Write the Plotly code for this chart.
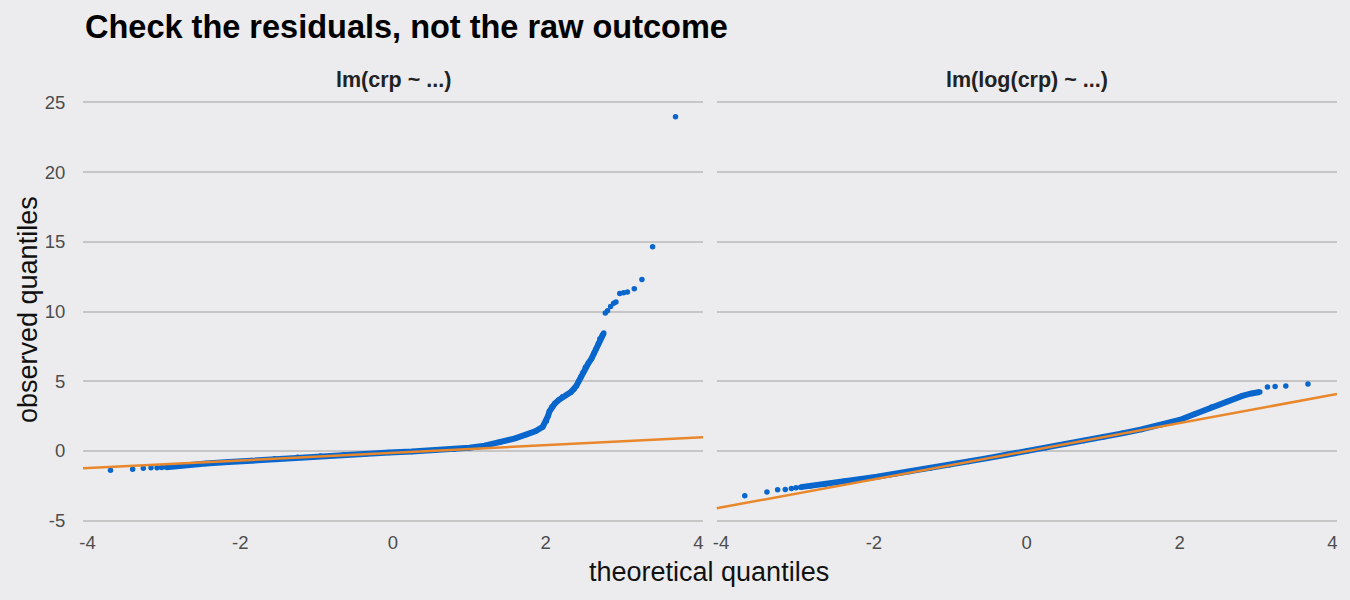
import plotly.graph_objects as go

# ---------------- data ----------------
panel_titles = ["lm(crp ~ ...)", "lm(log(crp) ~ ...)"]
x_ticks = [-4, -2, 0, 2, 4]
x_tick_labels = ["-4", "-2", "0", "2", "4"]
y_ticks = [-5, 0, 5, 10, 15, 20, 25]
y_tick_labels = ["-5", "0", "5", "10", "15", "20", "25"]
x_range = [-4.06, 4.06]
y_range = [-5.1, 25.1]

# left panel: lm(crp ~ ...)
left_low_x = [-3.70, -3.41, -3.27, -3.17, -3.09, -3.03]
left_low_y = [-1.38, -1.31, -1.24, -1.21, -1.21, -1.19]
left_band_x = [-2.97, -2.75, -2.45, -2.15, -1.85, -1.55, -1.25, -0.95, -0.65, -0.35,
               -0.05, 0.25, 0.55, 0.80, 1.00, 1.20, 1.40, 1.60, 1.75, 1.87,
               1.96, 2.01, 2.03, 2.05, 2.08, 2.12, 2.17, 2.22, 2.28, 2.33, 2.37, 2.40,
               2.43, 2.46, 2.49, 2.52, 2.56, 2.60, 2.63, 2.66, 2.69, 2.71, 2.74, 2.76]
left_band_y = [-1.17, -1.03, -0.91, -0.80, -0.69, -0.57, -0.46, -0.37, -0.28, -0.20,
               -0.12, -0.05, 0.04, 0.12, 0.22, 0.38, 0.62, 0.90, 1.18, 1.42,
               1.72, 2.15, 2.50, 2.85, 3.15, 3.40, 3.65, 3.88, 4.05, 4.22, 4.42, 4.65,
               4.97, 5.30, 5.65, 6.00, 6.30, 6.62, 6.98, 7.33, 7.70, 8.05, 8.28, 8.45]
left_high_x = [2.78, 2.81, 2.85, 2.89, 2.92, 2.97, 3.02, 3.07, 3.16, 3.26, 3.40, 3.70]
left_high_y = [9.90, 10.05, 10.35, 10.60, 10.68, 11.30, 11.34, 11.40, 11.63, 12.30, 14.64, 23.97]
left_ref_intercept = -0.135
left_ref_slope = 0.275

# right panel: lm(log(crp) ~ ...)
right_low_x = [-3.69, -3.40, -3.26, -3.16, -3.08, -3.02]
right_low_y = [-3.21, -2.95, -2.79, -2.76, -2.69, -2.64]
right_band_x = [-2.96, -2.83, -2.63, -2.39, -2.17, -1.96, -1.74, -1.53, -1.26, -1.01,
                -0.76, -0.51, -0.25, 0.00, 0.25, 0.50, 0.75, 1.00, 1.25, 1.50, 1.75,
                2.00, 2.20, 2.42, 2.62, 2.82, 2.94, 3.05]
right_band_y = [-2.60, -2.52, -2.37, -2.18, -2.02, -1.86, -1.67, -1.48, -1.23, -1.00,
                -0.76, -0.52, -0.26, -0.02, 0.23, 0.49, 0.74, 1.00, 1.26, 1.54, 1.85,
                2.22, 2.65, 3.15, 3.55, 3.95, 4.12, 4.22]
right_high_x = [3.15, 3.25, 3.39, 3.68]
right_high_y = [4.59, 4.62, 4.66, 4.80]
right_ref_intercept = -0.02
right_ref_slope = 1.01

# ---------------- style ----------------
BG = "#ECECEE"
GRID = "#C6C6C6"
BLUE = "#0866CC"
ORANGE = "#E8872C"
FONT = "Liberation Sans, Arial, sans-serif"

fig = go.Figure()

panels = [
    ("x", "y", left_low_x + left_band_x + left_high_x, left_low_y + left_band_y + left_high_y,
     left_band_x, left_band_y, left_ref_intercept, left_ref_slope),
    ("x2", "y2", right_low_x + right_band_x + right_high_x, right_low_y + right_band_y + right_high_y,
     right_band_x, right_band_y, right_ref_intercept, right_ref_slope),
]

for xa, ya, px, py, bx, by, b0, b1 in panels:
    # dense part of the sample drawn as a continuous band
    fig.add_trace(go.Scatter(x=bx, y=by, mode="lines", xaxis=xa, yaxis=ya,
                             line=dict(color=BLUE, width=6), hoverinfo="skip",
                             showlegend=False))
    # every observed quantile as a point
    fig.add_trace(go.Scatter(x=px, y=py, mode="markers", xaxis=xa, yaxis=ya,
                             marker=dict(color=BLUE, size=5.5, line=dict(width=0)),
                             hoverinfo="skip", showlegend=False))
    # reference line across the panel
    ref_y = [b0 + b1 * v for v in x_range]
    fig.add_trace(go.Scatter(x=x_range, y=ref_y, mode="lines", xaxis=xa, yaxis=ya,
                             line=dict(color=ORANGE, width=2.5), hoverinfo="skip",
                             showlegend=False))

L, R, T, B = 83, 13, 101, 78
W, H = 1350, 600
pw = W - L - R
ph = H - T - B

common_x = dict(range=x_range, tickvals=x_ticks, ticktext=x_tick_labels, showgrid=False,
                zeroline=False, showline=False, ticks="outside", ticklen=4,
                tickcolor="rgba(0,0,0,0)", tickfont=dict(size=18.5, color="#4D4D4D", family=FONT))
common_y = dict(range=y_range, tickvals=y_ticks, ticktext=y_tick_labels, showgrid=True,
                gridcolor=GRID, gridwidth=2, zeroline=False, showline=False,
                ticks="outside", ticklen=13, tickcolor="rgba(0,0,0,0)",
                tickfont=dict(size=18.5, color="#4D4D4D", family=FONT))

fig.update_layout(
    width=W, height=H,
    margin=dict(l=L, r=R, t=T, b=B, pad=0),
    paper_bgcolor=BG, plot_bgcolor=BG,
    xaxis=dict(domain=[0, 620 / pw], anchor="y", **common_x),
    xaxis2=dict(domain=[(716.5 - L) / pw, 1], anchor="y2", **common_x),
    yaxis=dict(domain=[0, 1], anchor="x", **common_y),
    yaxis2=dict(domain=[0, 1], anchor="x2", showticklabels=False,
                **{k: v for k, v in common_y.items() if k != "tickfont"}),
    showlegend=False,
)

annotations = [
    dict(text="<b>Check the residuals, not the raw outcome</b>", xref="paper", yref="paper",
         x=0, y=(H - B - 27) / ph, xanchor="left", yanchor="middle", showarrow=False,
         font=dict(size=32.5, color="#000000", family=FONT)),
    dict(text="<b>" + panel_titles[0] + "</b>", xref="x domain", yref="paper", x=0.5,
         y=(H - B - 80) / ph, xanchor="center", yanchor="middle", showarrow=False,
         font=dict(size=21.5, color="#222222", family=FONT)),
    dict(text="<b>" + panel_titles[1] + "</b>", xref="x2 domain", yref="paper", x=0.5,
         y=(H - B - 80) / ph, xanchor="center", yanchor="middle", showarrow=False,
         font=dict(size=21.5, color="#222222", family=FONT)),
    dict(text="observed quantiles", xref="paper", yref="paper", x=(28 - L) / pw,
         y=(H - B - 310) / ph, xanchor="center", yanchor="middle", textangle=-90,
         showarrow=False, font=dict(size=27, color="#111111", family=FONT)),
    dict(text="theoretical quantiles", xref="paper", yref="paper", x=(709 - L) / pw,
         y=(H - B - 572) / ph, xanchor="center", yanchor="middle", showarrow=False,
         font=dict(size=27, color="#111111", family=FONT)),
]
fig.update_layout(annotations=annotations)

fig.write_html("out.html")
